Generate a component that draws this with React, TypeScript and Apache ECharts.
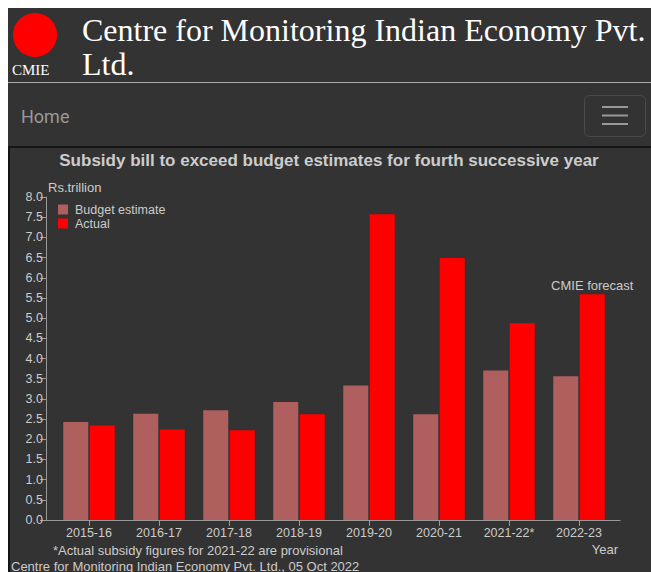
import React, { useEffect, useRef } from "react";
import * as echarts from "echarts";

const categories = ["2015-16", "2016-17", "2017-18", "2018-19", "2019-20", "2020-21", "2021-22*", "2022-23"];
const budgetEstimate = [2.43, 2.63, 2.72, 2.92, 3.33, 2.62, 3.70, 3.56];
const actual = [2.34, 2.24, 2.22, 2.62, 7.57, 6.49, 4.87, 5.59];
const seriesNames = ["Budget estimate", "Actual"];
const forecastLabel = "CMIE forecast";

const SERIF = "'Liberation Serif', 'DejaVu Serif', serif";
const SANS = "'Liberation Sans', Arial, sans-serif";
const TXT = "#cccccc";
const AXIS = "#999999";

export default function App() {
  const ref = useRef<HTMLDivElement>(null);
  useEffect(() => {
    if (!ref.current) return;
    const chart = echarts.init(ref.current, undefined, { renderer: "svg" });
    const lastIdx = actual.length - 1;
    chart.setOption({
      animation: false,
      backgroundColor: "#ffffff",
      graphic: [
        { type: "rect", z: -10, shape: { x: 8, y: 8, width: 643, height: 564 }, style: { fill: "#333333" } },
        { type: "circle", shape: { cx: 35, cy: 35, r: 22 }, style: { fill: "#ff0000" } },
        { type: "text", x: 12, y: 70, style: { text: "CMIE", font: `15px ${SERIF}`, fill: "#ffffff", verticalAlign: "middle", align: "left" } },
        { type: "text", x: 82, y: 30, style: { text: "Centre for Monitoring Indian Economy Pvt.", font: `32px ${SERIF}`, fill: "#ffffff", verticalAlign: "middle", align: "left" } },
        { type: "text", x: 82, y: 64, style: { text: "Ltd.", font: `32px ${SERIF}`, fill: "#ffffff", verticalAlign: "middle", align: "left" } },
        { type: "line", shape: { x1: 8, y1: 82.5, x2: 651, y2: 82.5 }, style: { stroke: "#aaaaaa", lineWidth: 1 } },
        { type: "text", x: 21, y: 116, style: { text: "Home", font: `18px Roboto, ${SANS}`, fill: "#999999", verticalAlign: "middle", align: "left" } },
        { type: "rect", shape: { x: 584.5, y: 95.5, width: 61, height: 41, r: 5 }, style: { fill: "none", stroke: "#4a4a4a", lineWidth: 1 } },
        { type: "line", shape: { x1: 602, y1: 107, x2: 628, y2: 107 }, style: { stroke: "#999999", lineWidth: 2 } },
        { type: "line", shape: { x1: 602, y1: 115.5, x2: 628, y2: 115.5 }, style: { stroke: "#999999", lineWidth: 2 } },
        { type: "line", shape: { x1: 602, y1: 124, x2: 628, y2: 124 }, style: { stroke: "#999999", lineWidth: 2 } },
        { type: "rect", z: -5, shape: { x: 9, y: 147, width: 700, height: 500 }, style: { fill: "#333333", stroke: "#151515", lineWidth: 2 } },
        { type: "text", x: 329, y: 160, style: { text: "Subsidy bill to exceed budget estimates for fourth successive year", font: `bold 17px ${SANS}`, fill: TXT, verticalAlign: "middle", align: "center" } },
        { type: "text", x: 48, y: 187, style: { text: "Rs.trillion", font: `13px ${SANS}`, fill: TXT, verticalAlign: "middle", align: "left" } },
        { type: "text", x: 605, y: 549, style: { text: "Year", font: `13px ${SANS}`, fill: TXT, verticalAlign: "middle", align: "center" } },
        { type: "text", x: 53, y: 550, style: { text: "*Actual subsidy figures for 2021-22 are provisional", font: `13px ${SANS}`, fill: TXT, verticalAlign: "middle", align: "left" } },
        { type: "text", x: 11, y: 566, style: { text: "Centre for Monitoring Indian Economy Pvt. Ltd., 05 Oct 2022", font: `13px ${SANS}`, fill: TXT, verticalAlign: "middle", align: "left" } },
      ],
      legend: {
        data: seriesNames,
        orient: "vertical",
        left: 58,
        top: 203,
        padding: 0,
        itemWidth: 10,
        itemHeight: 10,
        itemGap: 1,
        icon: "rect",
        textStyle: { color: TXT, fontSize: 12.5, lineHeight: 12.5, fontFamily: SANS, padding: [0, 0, 0, 2] },
      },
      grid: [
        { left: 54, right: 37, top: 197, bottom: 52 },
        { left: 46, right: 31, top: 197, bottom: 52 },
      ],
      xAxis: [
        {
          type: "category",
          data: categories,
          gridIndex: 0,
          axisLine: { show: false },
          axisTick: { show: true, alignWithLabel: true, length: 6, lineStyle: { color: AXIS } },
          axisLabel: { color: TXT, fontSize: 12.5, fontFamily: SANS, margin: 6 },
        },
        {
          type: "value",
          gridIndex: 1,
          min: 0,
          max: 1,
          axisLine: { show: true, onZero: false, lineStyle: { color: AXIS } },
          axisTick: { show: false },
          axisLabel: { show: false },
          splitLine: { show: false },
        },
      ],
      yAxis: [
        {
          type: "value",
          gridIndex: 0,
          min: 0,
          max: 8,
          interval: 0.5,
          offset: 8,
          axisLine: { show: true, lineStyle: { color: AXIS } },
          axisTick: { show: true, length: 6, lineStyle: { color: AXIS } },
          axisLabel: { color: TXT, fontSize: 12.5, fontFamily: SANS, margin: 3, formatter: (v: number) => v.toFixed(1) },
          splitLine: { show: false },
        },
        { type: "value", gridIndex: 1, show: false, min: 0, max: 1 },
      ],
      series: [
        {
          name: seriesNames[0],
          type: "bar",
          xAxisIndex: 0,
          yAxisIndex: 0,
          data: budgetEstimate,
          barWidth: 25,
          barGap: "6%",
          itemStyle: { color: "#b05f5f" },
        },
        {
          name: seriesNames[1],
          type: "bar",
          xAxisIndex: 0,
          yAxisIndex: 0,
          barWidth: 25,
          barGap: "6%",
          itemStyle: { color: "#ff0000" },
          data: actual.map((v, i) =>
            i === lastIdx
              ? { value: v, label: { show: true, position: "top", distance: 2, formatter: forecastLabel, color: TXT, fontSize: 13, fontFamily: SANS } }
              : v
          ),
        },
      ],
    });
    return () => chart.dispose();
  }, []);
  return <div ref={ref} style={{ position: "fixed", left: 0, top: 0, width: 651, height: 572 }} />;
}
